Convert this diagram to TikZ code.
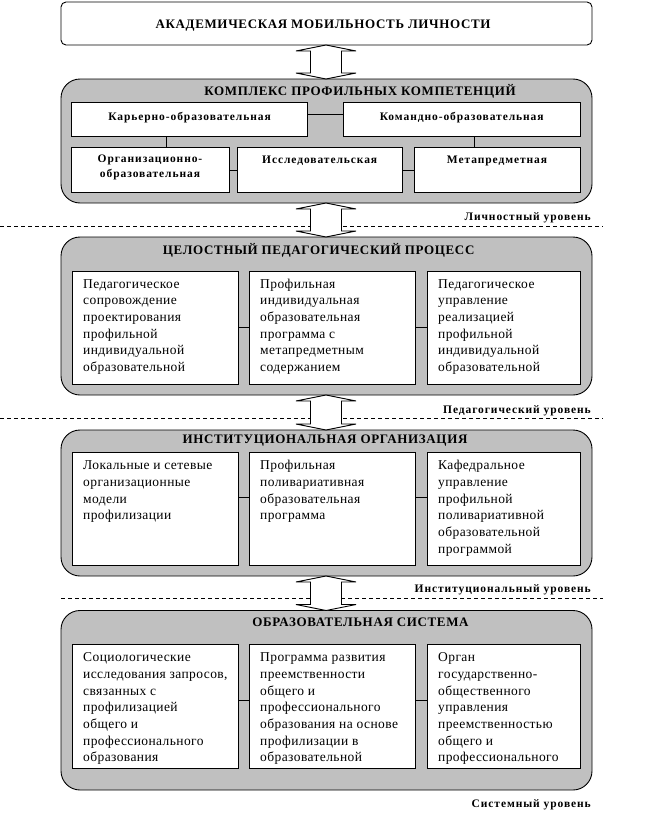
\documentclass[tikz,border=0pt]{standalone}
\usepackage{fontspec}
\setmainfont{Liberation Serif}
\newfontfamily\hdfont[LetterSpace=5]{Liberation Serif}
\newfontfamily\smfont[LetterSpace=8]{Liberation Serif}
\newfontfamily\bdfont[LetterSpace=3]{Liberation Serif}
\usetikzlibrary{calc}
\definecolor{grayfill}{HTML}{C0C0C0}
\newcommand\mkbox[6]{\node[#6, minimum width={(#4-#2)*1pt}, minimum height={(#5-#3)*1pt}] (#1) at (#2,#3) {};}
\newcommand\dblarrow[2]{%
  \draw[ln, fill=white] let \p1=(#1.south), \p2=(#2.north) in
    (326pt,\y1) -- (356pt,\y1-6pt) -- (341.5pt,\y1-6pt) -- (341.5pt,\y2+6pt) -- (356pt,\y2+6pt)
    -- (326pt,\y2) -- (296pt,\y2+6pt) -- (310.5pt,\y2+6pt) -- (310.5pt,\y1-6pt) -- (296pt,\y1-6pt) -- cycle;}
\tikzset{
  ln/.style={line width=0.9pt},
  grp/.style={draw, line width=0.9pt, fill=grayfill, rounded corners=19pt, inner sep=0pt, outer sep=0pt, anchor=north west},
  topbox/.style={draw, line width=0.9pt, fill=white, rounded corners=5pt, inner sep=0pt, outer sep=0pt, anchor=north west},
  inner/.style={draw, line width=0.9pt, fill=white, inner sep=0pt, outer sep=0pt, anchor=north west},
  hdr/.style={font=\hdfont\bfseries\fontsize{13}{15}\selectfont, inner sep=0pt},
  sm/.style={font=\smfont\bfseries\fontsize{11.5}{15}\selectfont, inner sep=0pt, align=center},
  lvl/.style={font=\smfont\bfseries\fontsize{11.5}{13}\selectfont, inner sep=0pt, anchor=east},
  bt/.style={font=\bdfont\fontsize{13.5}{16.7}\selectfont, align=left, inner sep=0pt, anchor=north west},
  dsh/.style={line width=0.9pt, dash pattern=on 4pt off 3pt}
}
\begin{document}
\begin{tikzpicture}[x=1pt,y=-1pt]
\useasboundingbox (0,0) rectangle (649,827);
% top box
\mkbox{acad}{61}{2}{592}{45}{topbox}
\node[hdr] (acadt) at (323,26) {АКАДЕМИЧЕСКАЯ МОБИЛЬНОСТЬ ЛИЧНОСТИ};
% group 2
\mkbox{g2}{61}{79}{592}{203}{grp}
\node[hdr] (g2t) at (360,91.5) {КОМПЛЕКС ПРОФИЛЬНЫХ КОМПЕТЕНЦИЙ};
\mkbox{kar}{71.5}{102.5}{307.5}{136}{inner}
\mkbox{kom}{343.5}{102.5}{580}{136}{inner}
\mkbox{org}{71.5}{147}{229}{192}{inner}
\mkbox{res}{237.5}{147}{402}{192}{inner}
\mkbox{met}{414}{147}{580}{192}{inner}
\node[sm] (kart) at (189.5,117.5) {Карьерно-образовательная};
\node[sm] (komt) at (461.7,117.5) {Командно-образовательная};
\node[sm] (orgt) at (150,167.5) {Организационно-\\образовательная};
\node[sm] (rest) at (319.7,161) {Исследовательская};
\node[sm] (mett) at (497,161) {Метапредметная};
\draw[ln] ([yshift=5pt]kar.east) -- ([yshift=5pt]kom.west);
\draw[ln] (kar.south -| 166,0) -- (org.north -| 166,0);
\draw[ln] (kom.south -| 474,0) -- (met.north -| 474,0);
\draw[ln] ([yshift=-1pt]org.east) -- ([yshift=-1pt]res.west);
\draw[ln] ([yshift=-1pt]res.east) -- ([yshift=-1pt]met.west);
\dblarrow{acad}{g2}
\node[lvl] (l1) at (591,217.5) {Личностный уровень};
\coordinate (d1a) at (0,226.5);
\coordinate (d1b) at (603,226.5);
\draw[dsh] (d1a) -- (d1b);
% group 3
\mkbox{g3}{61}{237}{592}{395}{grp}
\node[hdr] (g3t) at (318.7,250.5) {ЦЕЛОСТНЫЙ ПЕДАГОГИЧЕСКИЙ ПРОЦЕСС};
\mkbox{b31}{72}{271}{238}{384}{inner}
\mkbox{b32}{249}{271}{415}{384}{inner}
\mkbox{b33}{427}{271}{580}{384}{inner}
\node[bt] (t31) at (83,276.3) {\strut Педагогическое\\сопровождение\\проектирования\\профильной\\индивидуальной\\образовательной};
\node[bt] (t32) at (260,276.3) {\strut Профильная\\индивидуальная\\образовательная\\программа с\\метапредметным\\содержанием};
\node[bt] (t33) at (438,276.3) {\strut Педагогическое\\управление\\реализацией\\профильной\\индивидуальной\\образовательной};
\draw[ln] (b31.east) -- (b32.west);
\draw[ln] (b32.east) -- (b33.west);
\dblarrow{g2}{g3}
\node[lvl] (l2) at (591,410.5) {Педагогический уровень};
\coordinate (d2a) at (0,418);
\coordinate (d2b) at (603,418);
\draw[dsh] (d2a) -- (d2b);
% group 4
\mkbox{g4}{61}{430}{592}{576}{grp}
\node[hdr] (g4t) at (325,441) {ИНСТИТУЦИОНАЛЬНАЯ ОРГАНИЗАЦИЯ};
\mkbox{b41}{72}{452.5}{238}{565}{inner}
\mkbox{b42}{249}{452.5}{415}{565}{inner}
\mkbox{b43}{427}{452.5}{580}{565}{inner}
\node[bt] (t41) at (83,457.8) {\strut Локальные и сетевые\\организационные\\модели\\профилизации};
\node[bt] (t42) at (260,457.8) {\strut Профильная\\поливариативная\\образовательная\\программа};
\node[bt] (t43) at (438,457.8) {\strut Кафедральное\\управление\\профильной\\поливариативной\\образовательной\\программой};
\draw[ln] ([yshift=11.5pt]b41.east) -- ([yshift=11.5pt]b42.west);
\draw[ln] ([yshift=11.5pt]b42.east) -- ([yshift=11.5pt]b43.west);
\dblarrow{g3}{g4}
\node[lvl] (l3) at (591,590) {Институциональный уровень};
\coordinate (d3a) at (61,598);
\coordinate (d3b) at (603,598);
\draw[dsh] (d3a) -- (d3b);
% group 5
\mkbox{g5}{61}{610.5}{592}{790}{grp}
\node[hdr] (g5t) at (360.5,622.5) {ОБРАЗОВАТЕЛЬНАЯ СИСТЕМА};
\mkbox{b51}{72}{644.5}{238}{768.5}{inner}
\mkbox{b52}{249}{644.5}{415}{768.5}{inner}
\mkbox{b53}{427}{644.5}{580}{768.5}{inner}
\node[bt] (t51) at (83,649.8) {\strut Социологические\\исследования запросов,\\связанных с\\профилизацией\\общего и\\профессионального\\образования};
\node[bt] (t52) at (260,649.8) {\strut Программа развития\\преемственности\\общего и\\профессионального\\образования на основе\\профилизации в\\образовательной};
\node[bt] (t53) at (438,649.8) {\strut Орган\\государственно-\\общественного\\управления\\преемственностью\\общего и\\профессионального};
\draw[ln] ([yshift=6.5pt]b51.east) -- ([yshift=6.5pt]b52.west);
\draw[ln] ([yshift=6.5pt]b52.east) -- ([yshift=6.5pt]b53.west);
\dblarrow{g4}{g5}
\node[lvl] (l4) at (591,805) {Системный уровень};
\end{tikzpicture}
\end{document}
